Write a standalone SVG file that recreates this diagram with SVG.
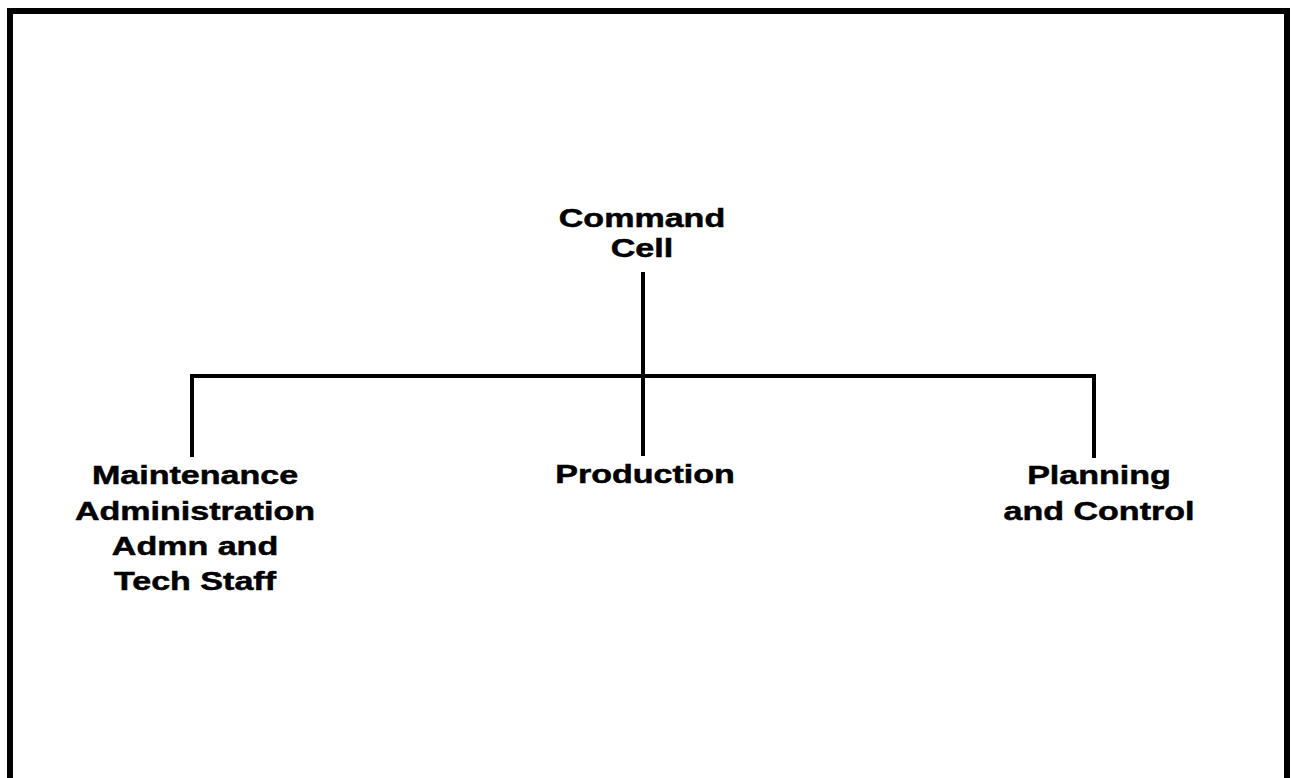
<svg xmlns="http://www.w3.org/2000/svg" width="1291" height="778" viewBox="0 0 1291 778">
  <style>
    .frame { fill: none; stroke: #000; stroke-width: 6; }
    .conn { fill: none; stroke: #000; stroke-width: 4; stroke-linecap: butt; }
    .lbl { font-family: "Liberation Sans", Arial, Helvetica, sans-serif; font-weight: bold; font-size: 26px; fill: #000; stroke: #000; stroke-width: 0.5; text-anchor: middle; }
  </style>
  <rect x="0" y="0" width="1291" height="778" fill="#fff"/>
  <path class="frame" d="M10,778 L10,11 L1287,11 L1287,778"/>
  <g id="connectors">
    <line class="conn" x1="643" y1="272" x2="643" y2="456"/>
    <path class="conn" d="M192,457 L192,376 L1094,376 L1094,458"/>
  </g>
  <g id="command-cell" transform="translate(642,0) scale(1.31,1)">
    <text class="lbl" x="0" y="227">Command</text>
    <text class="lbl" x="0" y="257">Cell</text>
  </g>
  <g id="maintenance" transform="translate(195,0) scale(1.31,1)">
    <text class="lbl" x="0" y="484">Maintenance</text>
    <text class="lbl" x="0" y="520">Administration</text>
    <text class="lbl" x="0" y="555">Admn and</text>
    <text class="lbl" x="0" y="590">Tech Staff</text>
  </g>
  <g id="production" transform="translate(645,0) scale(1.31,1)">
    <text class="lbl" x="0" y="483">Production</text>
  </g>
  <g id="planning" transform="translate(1099,0) scale(1.31,1)">
    <text class="lbl" x="0" y="484">Planning</text>
    <text class="lbl" x="0" y="520">and Control</text>
  </g>
</svg>
